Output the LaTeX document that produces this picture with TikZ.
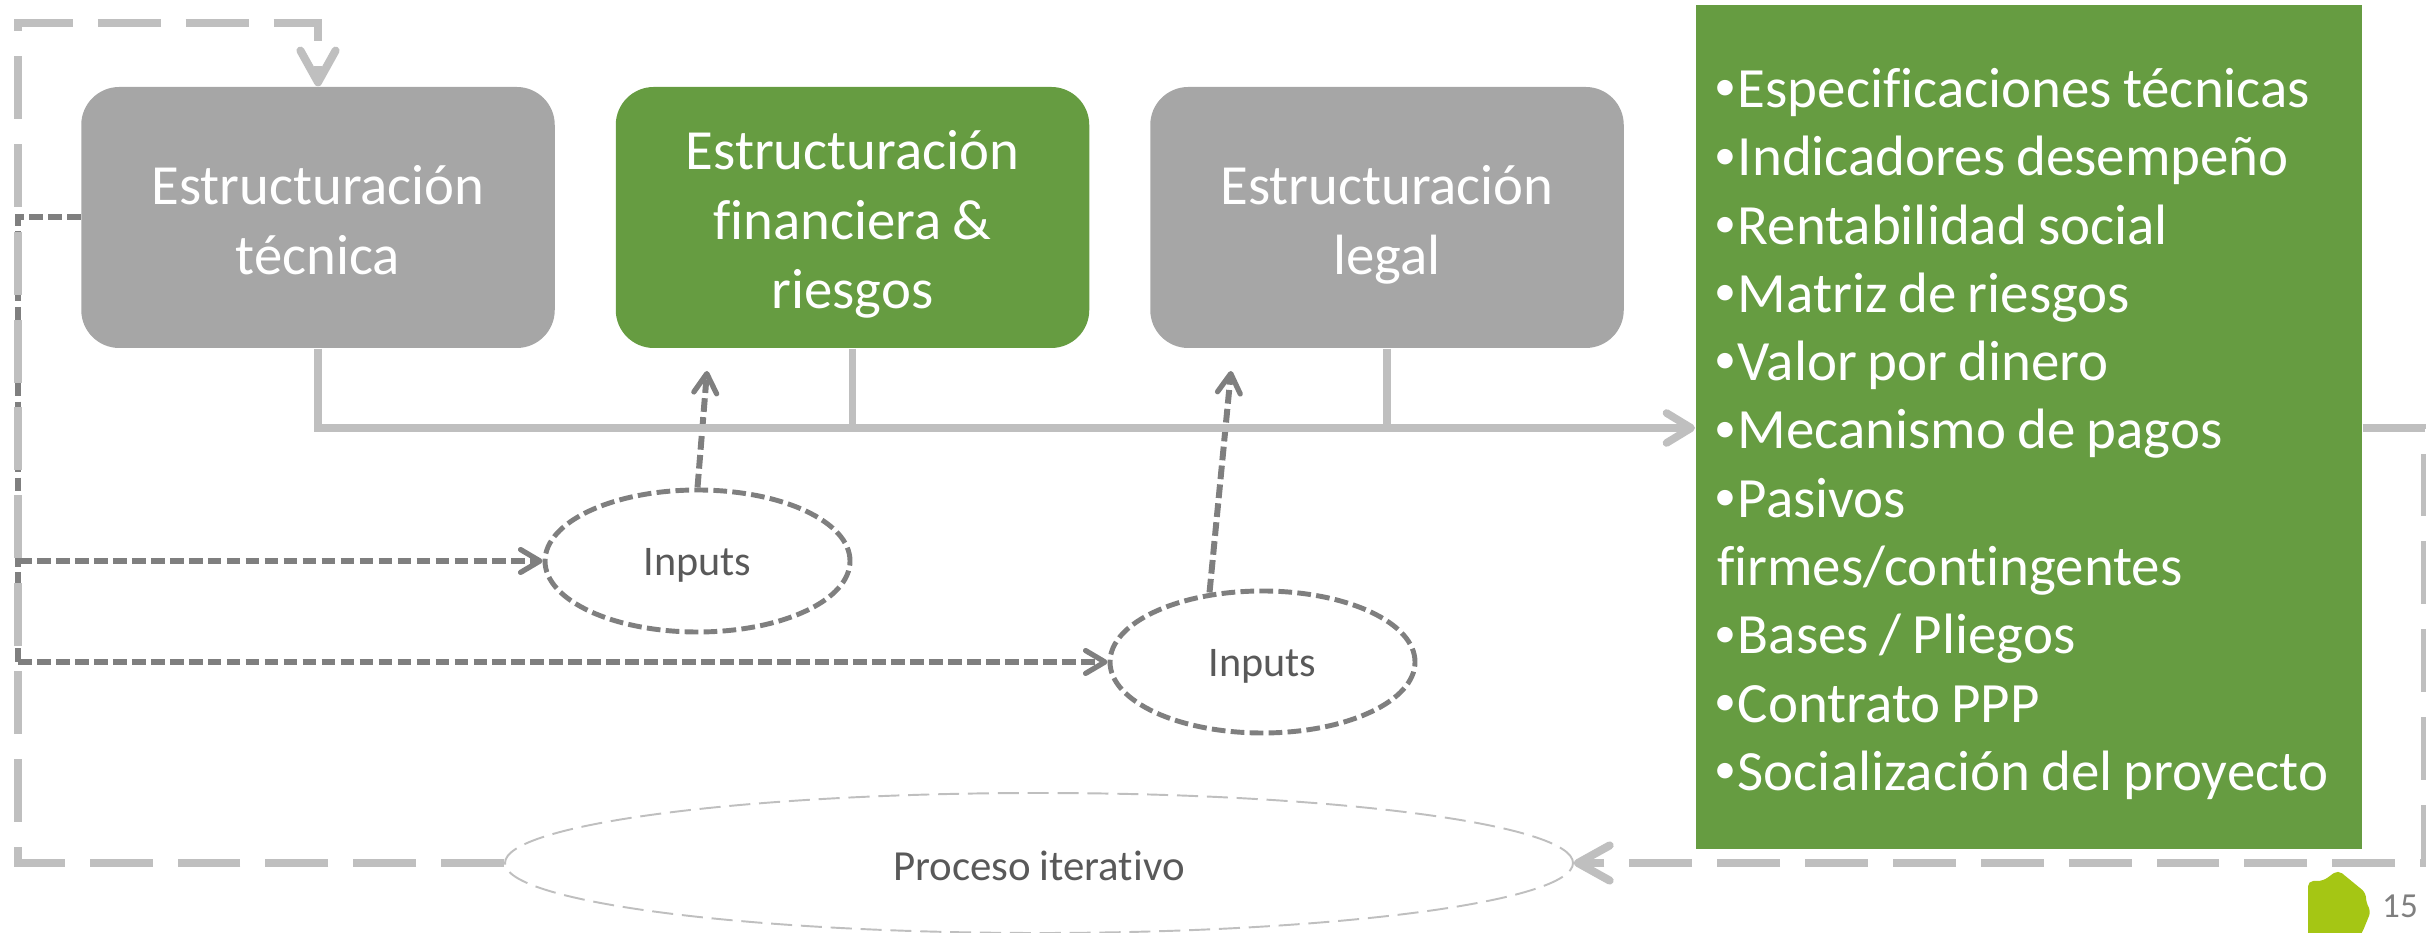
\documentclass[tikz,border=0pt]{standalone}
\usepackage{fontspec}
\setmainfont{Carlito}[Ligatures=NoCommon,WordSpace=0.85]
\usetikzlibrary{arrows.meta,shapes.geometric}
\definecolor{gris}{HTML}{A6A6A6}
\definecolor{verde}{HTML}{669C41}
\definecolor{linea}{HTML}{BFBFBF}
\definecolor{oscuro}{HTML}{7F7F7F}
\definecolor{texto}{HTML}{595959}
\definecolor{logo}{HTML}{A5C614}
\newcommand{\vineta}{\makebox[5.9pt][l]{\hspace{-0.8pt}\raisebox{1.9pt}{\fontsize{12.5}{12}\selectfont •}}}
\tikzset{
  etapa/.style={rectangle,rounded corners=0.38cm,fill=gris,text=white,minimum width=4.735cm,minimum height=2.61cm,
    text width=4.7cm,align=flush center,inner sep=0pt,font=\fontsize{16.15}{19.8}\selectfont,
    execute at begin node=\rule{0pt}{18.4pt},execute at end node=\strut},
  insumo/.style={ellipse,draw=oscuro,line width=1.4pt,dash pattern=on 3.9pt off 1.5pt,minimum width=3.05cm,minimum height=1.42cm,
    inner sep=0pt,text=texto,font=\fontsize{12}{14}\selectfont,text height=10.5pt,text depth=2.5pt},
  flujo/.style={draw=linea,line width=2.2pt,-{Straight Barb[length=7pt,width=8.5pt,line width=2.2pt,round]}},
  tramo/.style={draw=linea,line width=2.2pt},
  entrada/.style={draw=oscuro,line width=1.7pt,dash pattern=on 3.9pt off 1.5pt},
  retorno/.style={draw=linea,line width=2.3pt,dash pattern=on 17.9pt off 7.1pt},
  puntaret/.style={-{Straight Barb[length=9pt,width=10pt,line width=2.3pt,round]}},
}
\begin{document}
\begin{tikzpicture}[node distance=5.345cm,>={Straight Barb[length=5.5pt,width=6.5pt,line width=1.5pt,round]}]
    \useasboundingbox (0,0) rectangle (24.26,9.33);
    \node[etapa]  (tecnica) at (3.18,7.155)   {Estructuración\\técnica};
    \node[etapa,fill=verde]  (financiera) [right of=tecnica]  {Estructuración\\financiera \&\\riesgos};
    \node[etapa]  (legal) [right of=financiera] {Estructuración\\legal};
    \node[rectangle,fill=verde,text=white,minimum width=6.66cm,minimum height=8.44cm,text width=6.24cm,align=flush left,inner sep=0pt,
      font=\fontsize{16.2}{19.43}\selectfont,execute at begin node=\rule{0pt}{18.3pt},execute at end node=\strut] (lista) at (20.29,5.06)
      {\vineta Especificaciones técnicas\\\vineta Indicadores desempeño\\\vineta Rentabilidad social\\\vineta Matriz de riesgos\\\vineta Valor por dinero\\\vineta Mecanismo de pagos\\\vineta Pasivos\\firmes/contingentes\\\vineta Bases / Pliegos\\\vineta Contrato PPP\\\vineta Socialización del proyecto};
    \node[insumo] (inputsa) at (6.975,3.72) {Inputs};
    \node[insumo] (inputsb) at (12.625,2.71) {Inputs};
    \node[ellipse,draw=linea,line width=0.55pt,dash pattern=on 6pt off 2.5pt,minimum width=10.68cm,minimum height=1.40cm,inner sep=0pt,
      text=texto,font=\fontsize{12.2}{15}\selectfont,text height=12.5pt,text depth=2.7pt] (iterativo) at (10.39,0.70) {Proceso iterativo};
    \node[text=oscuro,font=\fontsize{10}{12}\selectfont,inner sep=0pt] (pagina) at (24.00,0.27) {15};
    \fill[logo,rounded corners=1.5pt] (23.08,-0.1) -- (23.08,0.52) -- (23.23,0.52) -- (23.38,0.63) -- (23.66,0.40) -- (23.66,0.30) -- (23.71,0.22) -- (23.62,0) -- (23.55,-0.1) -- cycle;

    \coordinate (bus) at (16.95,5.05);
    \coordinate (dera) at (24.25,5.05);
    \coordinate (derb) at (24.25,0.70);
    \coordinate (izqa) at (0.18,0.70);
    \coordinate (izqb) at (0.18,9.10);
    \coordinate (codoa) at (izqb |- tecnica.west);
    \coordinate (puntaa) at (7.07,5.62);
    \coordinate (puntab) at (12.31,5.62);

    \draw[entrada] (tecnica.west) -- (codoa) -- (codoa |- inputsb.west);
    \draw[entrada,->] (codoa |- inputsb.west) -- (inputsb.west);
    \draw[entrada,->] (codoa |- inputsa.west) -- (inputsa.west);
    \draw[entrada,->] (inputsa.north) -- (puntaa);
    \draw[entrada,->] ([xshift=-0.53cm,yshift=-0.04cm]inputsb.north) -- (puntab);

    \draw[flujo] (tecnica.south) |- (bus);
    \draw[tramo] (financiera.south) -- (financiera.south |- bus);
    \draw[tramo] (legal.south) -- (legal.south |- bus);

    \draw[retorno,puntaret] (lista.east |- bus) -- (dera) -- (derb) -- (iterativo.east);
    \draw[retorno,puntaret] (iterativo.west) -- (izqa) -- (izqb) -| (tecnica.north);
\end{tikzpicture}
\end{document}
